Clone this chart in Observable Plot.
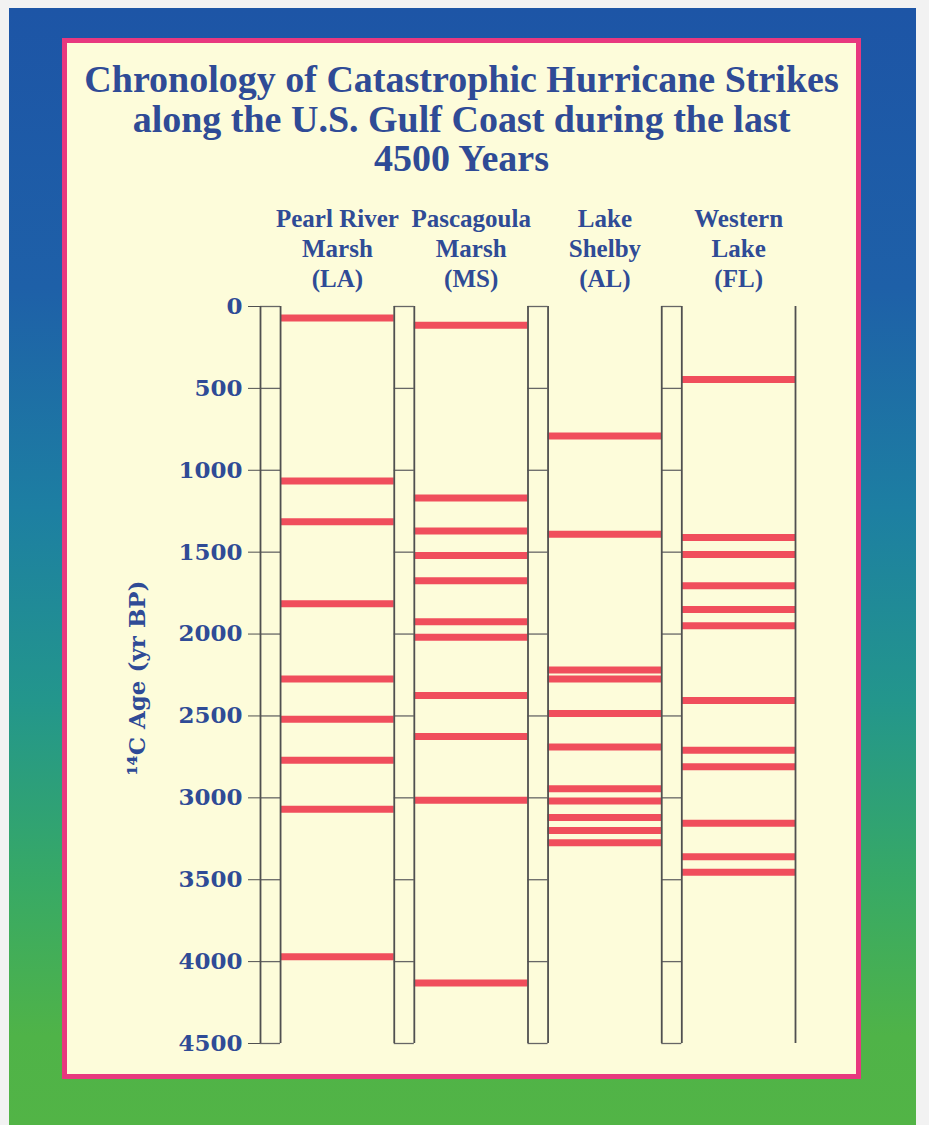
<!DOCTYPE html>
<html>
<head>
<meta charset="utf-8">
<script src="https://cdn.jsdelivr.net/npm/d3@7"></script>
<script src="https://cdn.jsdelivr.net/npm/@observablehq/plot@0.6"></script>
<style>
  html, body { margin: 0; padding: 0; background: #f2f2f2; }
  #page { position: relative; width: 929px; height: 1125px; overflow: hidden; }
  #grad { position: absolute; left: 9px; top: 8px; width: 907px; height: 1117px;
    background: linear-gradient(to bottom, #1d55a6 0%, #1e60a8 25%, #1d7fa2 45%, #23968c 62%, #37a966 78%, #4fb348 92%, #52b446 100%); }
  #frame { position: absolute; left: 62px; top: 38px; width: 789px; height: 1031px;
    border: 5px solid #e8387f; background: #fdfcda; }
  #title { position: absolute; left: 67px; top: 60px; width: 789px; text-align: center;
    font: bold 38px "Liberation Serif", serif; line-height: 39.5px; color: #2f4b96; z-index: 2; }
  #chart { position: absolute; left: 0; top: 0; z-index: 1; }
</style>
</head>
<body>
<div id="page">
  <div id="grad"></div>
  <div id="frame"></div>
  <div id="chart"></div>
  <div id="title">Chronology of Catastrophic Hurricane Strikes<br>along the U.S. Gulf Coast during the last<br>4500 Years</div>
</div>
<script>
// ---- data ----
const sites = ["Pearl River\nMarsh\n(LA)", "Pascagoula\nMarsh\n(MS)", "Lake\nShelby\n(AL)", "Western\nLake\n(FL)"];
const pearlRiver = [70, 1065, 1315, 1815, 2275, 2520, 2770, 3070, 3970];
const pascagoula = [115, 1170, 1370, 1520, 1675, 1925, 2020, 2375, 2625, 3015, 4130];
const lakeShelby = [790, 1390, 2220, 2275, 2485, 2690, 2945, 3020, 3120, 3200, 3275];
const westernLake = [445, 1410, 1515, 1705, 1850, 1950, 2405, 2710, 2810, 3155, 3360, 3455];
const yTicks = [0, 500, 1000, 1500, 2000, 2500, 3000, 3500, 4000, 4500];
const yLabel = "¹⁴C Age (yr BP)";

// ---- derived tables ----
const records = [pearlRiver, pascagoula, lakeShelby, westernLake];
const strikes = records.flatMap((ages, i) => ages.map(age => ({site: i, age})));
const R = 0.15; // ruler strip width as fraction of a column
const rulerVerticals = sites.flatMap((s, i) => [i, i + R]).concat([sites.length]);
const rulerTicks = sites.flatMap((s, i) => yTicks.map(t => ({site: i, t})));

const blue = "#2f4b96";
const red = "#f04e5c";
const grey = "#505050";

const chart = Plot.plot({
  width: 929,
  height: 1125,
  marginTop: 306,
  marginBottom: 82,
  marginLeft: 260,
  marginRight: 134,
  style: {background: "transparent", fontFamily: "DejaVu Serif"},
  x: {domain: [0, sites.length], axis: null},
  y: {domain: [0, 4500], reverse: true, axis: null},
  marks: [
    Plot.ruleY(strikes, {x1: d => d.site + R, x2: d => d.site + 1, y: "age", stroke: red, strokeWidth: 7}),
    Plot.ruleY(rulerTicks, {x1: d => d.site, x2: d => d.site + R, y: "t", stroke: "#666", strokeWidth: 1.3}),
    Plot.ruleX(rulerVerticals, {x: d => d, y1: 0, y2: 4500, stroke: grey, strokeWidth: 1.8}),
    Plot.axisY({ticks: yTicks, tickFormat: d3.format("d"), tickSize: 12, tickPadding: 6,
      stroke: grey, fill: blue, fontSize: 23, fontWeight: "bold", fontFamily: "DejaVu Serif", label: null}),
    Plot.text(sites, {x: (d, i) => i + (1 + R) / 2, text: d => d, frameAnchor: "top", lineAnchor: "top",
      dy: -101, fontSize: 25, lineHeight: 1.2, fontWeight: "bold", fontFamily: "Liberation Serif", fill: blue}),
    Plot.text([yLabel], {text: d => d, frameAnchor: "left", textAnchor: "middle", dx: -123, dy: 3, rotate: -90,
      fontSize: 23, fontWeight: "bold", fontFamily: "DejaVu Serif", fill: blue})
  ]
});
document.getElementById("chart").appendChild(chart);
</script>
</body>
</html>
